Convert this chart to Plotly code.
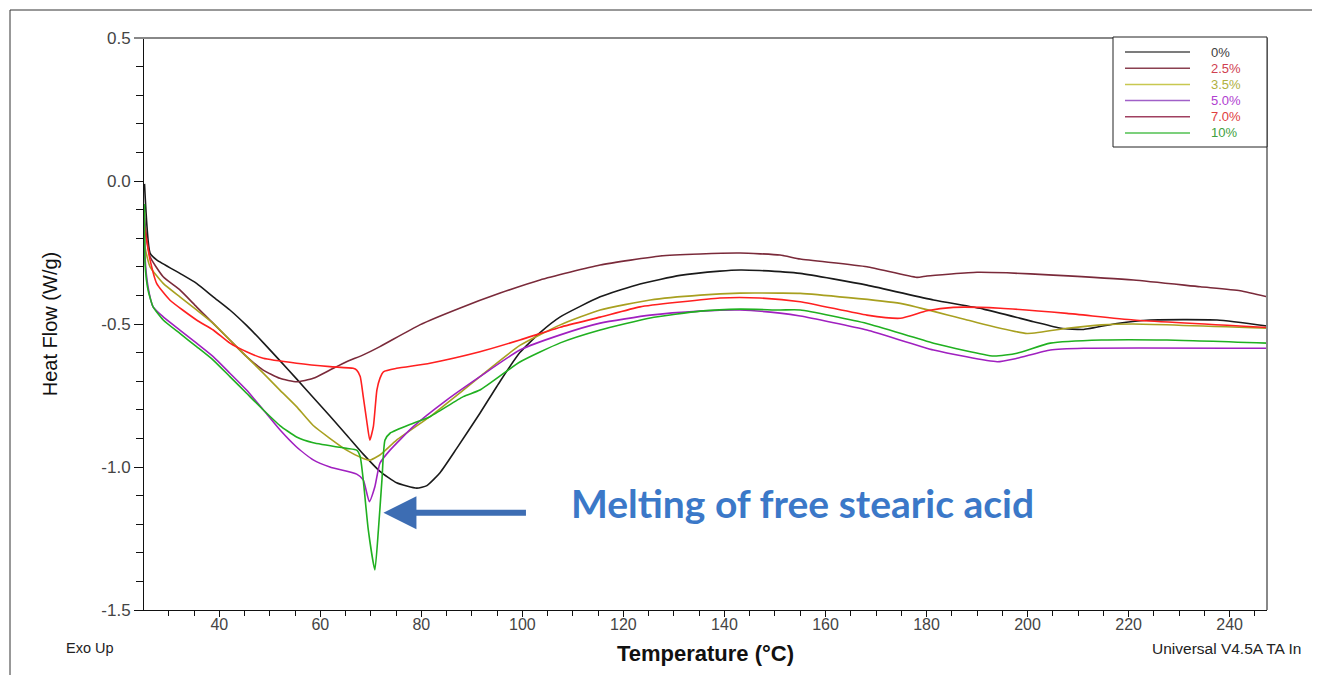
import plotly.graph_objects as go

# ---------------- data ----------------
series_names = ["0%", "2.5%", "3.5%", "5.0%", "7.0%", "10%"]
line_colors = ["#1a1a1a", "#7a2a3a", "#a8a020", "#a020c0", "#ff2020", "#20b020"]
key_colors = ["#505050", "#8a4050", "#c8c850", "#a060c8", "#a04060", "#50c050"]
label_colors = ["#404040", "#d04050", "#b0b040", "#b040d0", "#e04040", "#40a040"]

t_0 = [25.2, 26.3, 27.6, 32.2, 35.5, 38.8, 42.1, 45.4, 48.7, 52.0, 55.3, 58.6, 61.9, 65.2, 68.5,
       71.8, 75.1, 79.1, 81.1, 83.7, 87.0, 91.6, 95.6, 99.5, 103.5, 107.5, 115.4, 123.3, 131.2,
       139.1, 143.1, 147.0, 155.0, 168.2, 181.4, 191.3, 201.2, 206.6, 211.1, 217.7, 224.3, 237.5, 247.4]
hf_0 = [-0.01, -0.252, -0.276, -0.323, -0.358, -0.405, -0.451, -0.505, -0.565, -0.628, -0.692, -0.757,
        -0.822, -0.888, -0.955, -1.015, -1.055, -1.074, -1.065, -1.020, -0.935, -0.812, -0.700, -0.600,
        -0.530, -0.475, -0.405, -0.360, -0.330, -0.315, -0.311, -0.313, -0.323, -0.364, -0.416, -0.448,
        -0.492, -0.515, -0.519, -0.498, -0.486, -0.486, -0.507]

t_25 = [25.2, 25.6, 26.3, 28.9, 32.2, 35.5, 38.8, 42.1, 45.4, 48.7, 52.0, 55.3, 58.6, 61.9, 65.2,
        68.5, 71.8, 79.7, 87.7, 95.6, 103.5, 115.4, 127.3, 135.2, 143.1, 151.0, 155.0, 168.2, 178.1,
        180.1, 190.0, 195.9, 205.1, 221.0, 234.2, 242.1, 247.4]
hf_25 = [-0.13, -0.195, -0.265, -0.335, -0.381, -0.440, -0.498, -0.556, -0.614, -0.661, -0.690, -0.702,
         -0.690, -0.661, -0.632, -0.608, -0.579, -0.503, -0.444, -0.392, -0.346, -0.294, -0.262, -0.255,
         -0.252, -0.259, -0.273, -0.300, -0.337, -0.332, -0.319, -0.321, -0.329, -0.346, -0.370, -0.384,
         -0.405]

t_35 = [25.2, 25.3, 26.3, 28.9, 32.2, 35.5, 38.8, 42.1, 45.4, 48.7, 52.0, 55.3, 58.6, 65.2, 68.5,
        69.8, 71.8, 75.1, 81.7, 88.3, 91.6, 99.5, 107.5, 115.4, 125.3, 135.2, 143.1, 151.0, 155.0,
        174.8, 188.0, 199.9, 207.8, 214.6, 221.0, 247.4]
hf_35 = [-0.11, -0.230, -0.300, -0.358, -0.405, -0.451, -0.498, -0.556, -0.614, -0.672, -0.731, -0.789,
         -0.855, -0.941, -0.970, -0.976, -0.958, -0.906, -0.824, -0.731, -0.684, -0.575, -0.503, -0.451,
         -0.416, -0.399, -0.392, -0.392, -0.393, -0.428, -0.486, -0.533, -0.515, -0.503, -0.500, -0.515]

t_50 = [25.2, 25.3, 25.9, 26.9, 28.9, 32.2, 35.5, 38.8, 42.1, 45.4, 48.7, 52.0, 55.3, 58.6,
        61.9, 67.2, 68.5, 69.7, 70.8, 71.8, 73.8, 78.4, 85.0, 91.6, 99.5, 107.5, 115.4, 125.3, 135.2,
        143.1, 151.0, 155.0, 168.2, 181.4, 194.0, 197.9, 204.5, 211.1, 247.4]
hf_50 = [-0.12, -0.265, -0.370, -0.440, -0.475, -0.521, -0.567, -0.614, -0.672, -0.731, -0.800,
         -0.870, -0.930, -0.975, -1.000, -1.025, -1.045, -1.121, -1.069, -0.987, -0.941, -0.859, -0.766,
         -0.684, -0.591, -0.538, -0.497, -0.469, -0.455, -0.451, -0.462, -0.472, -0.521, -0.591, -0.632,
         -0.620, -0.591, -0.585, -0.585]

t_70 = [25.2, 25.6, 26.3, 27.6, 30.2, 35.5, 38.8, 42.1, 45.4, 48.7, 55.3, 61.9, 66.5, 67.2, 67.9,
        68.5, 69.2, 69.8, 70.5, 71.2, 71.8, 72.5, 75.1, 81.7, 91.6, 99.5, 107.5, 115.4, 123.3, 131.2,
        139.1, 147.0, 155.0, 168.2, 174.8, 180.1, 185.3, 194.6, 207.8, 221.0, 247.4]
hf_70 = [-0.16, -0.206, -0.276, -0.358, -0.416, -0.486, -0.521, -0.567, -0.597, -0.620, -0.637, -0.649,
         -0.655, -0.661, -0.684, -0.754, -0.840, -0.906, -0.859, -0.731, -0.690, -0.667, -0.655, -0.637,
         -0.597, -0.556, -0.511, -0.476, -0.440, -0.423, -0.409, -0.409, -0.422, -0.469, -0.480, -0.454,
         -0.442, -0.445, -0.463, -0.486, -0.512]

t_10 = [25.2, 25.3, 25.9, 26.9, 28.9, 32.2, 35.5, 38.8, 42.1, 45.4, 48.7, 52.0, 55.3, 58.6, 65.2,
        67.2, 67.9, 68.5, 69.5, 70.8, 71.5, 72.2, 72.8, 73.8, 78.4, 81.7, 88.3, 91.6, 99.5, 107.5,
        115.4, 125.3, 135.2, 143.1, 151.0, 155.0, 168.2, 181.4, 193.3, 197.9, 204.5, 214.6, 227.6, 247.4]
hf_10 = [-0.08, -0.288, -0.381, -0.440, -0.486, -0.533, -0.579, -0.626, -0.684, -0.742, -0.800, -0.855,
         -0.895, -0.915, -0.935, -0.941, -0.964, -1.045, -1.220, -1.360, -1.220, -1.045, -0.906, -0.882,
         -0.847, -0.824, -0.754, -0.731, -0.633, -0.566, -0.521, -0.479, -0.455, -0.448, -0.451, -0.451,
         -0.498, -0.567, -0.612, -0.602, -0.567, -0.556, -0.556, -0.567]

temps = [t_0, t_25, t_35, t_50, t_70, t_10]
flows = [hf_0, hf_25, hf_35, hf_50, hf_70, hf_10]

x_range = [25.1, 247.4]
y_range = [-1.5, 0.5]
y_ticks = [-1.5, -1.0, -0.5, 0.0, 0.5]
y_ticktext = ["-1.5", "-1.0", "-0.5", "0.0", "0.5"]
y_minor = [-1.4, -1.3, -1.2, -1.1, -0.9, -0.8, -0.7, -0.6, -0.4, -0.3, -0.2, -0.1, 0.1, 0.2, 0.3, 0.4]

annotation_text = "Melting of free stearic acid"
arrow_tip = (72.5, -1.16)

# ---------------- figure ----------------
fig = go.Figure()
for name, col, tx, hy in zip(series_names, line_colors, temps, flows):
    fig.add_trace(go.Scatter(
        x=tx, y=hy, mode="lines", name=name, showlegend=False,
        line=dict(color=col, width=1.6, shape="spline", smoothing=0.5),
    ))

# page body has an 8 px margin: the figure starts at page (8, 8)
OFF = 8
W, H = 1320 - OFF, 675 - OFF
# plot area in page pixels
PL, PR, PT, PB = 144, 1267, 38, 610
pw, ph = PR - PL, PB - PT


def px(xp):
    return (xp - PL) / pw


def py(yp):
    return (PB - yp) / ph


font_main = "Liberation Sans, Arial, sans-serif"

fig.update_layout(
    width=W, height=H,
    margin=dict(l=PL - OFF, r=W - (PR - OFF), t=PT - OFF, b=H - (PB - OFF), pad=0),
    paper_bgcolor="white", plot_bgcolor="white",
    font=dict(family=font_main, size=14, color="#333333"),
    showlegend=False,
    xaxis=dict(
        range=x_range, showgrid=False, zeroline=False,
        showline=True, linecolor="#111111", linewidth=1,
        ticks="outside", ticklen=6, tickcolor="#111111", tickwidth=1,
        tick0=0, dtick=20, ticklabelstandoff=-6,
        minor=dict(ticks="outside", ticklen=5, tickcolor="#111111", dtick=5, tick0=0, showgrid=False),
        tickfont=dict(size=16, color="#444444"),
        title=dict(text="<b>Temperature (°C)</b>", font=dict(size=22, color="#111111"), standoff=13),
    ),
    yaxis=dict(
        range=y_range, showgrid=False, zeroline=False,
        showline=True, linecolor="#111111", linewidth=1,
        ticks="outside", ticklen=9, tickcolor="#111111", tickwidth=1,
        tickmode="array", tickvals=y_ticks, ticktext=y_ticktext,
        minor=dict(ticks="outside", ticklen=7, tickcolor="#111111", tickmode="array",
                   tickvals=y_minor, showgrid=False),
        tickfont=dict(size=17, color="#444444"),
        title=dict(text="Heat Flow (W/g)", font=dict(size=20, color="#111111"), standoff=38),
    ),
)

# plot frame top/right (grey) and outer picture border
fig.add_shape(type="line", xref="paper", yref="paper", x0=px(134), x1=1, y0=1, y1=1,
              line=dict(color="#888888", width=2))
fig.add_shape(type="line", xref="paper", yref="paper", x0=1, x1=1, y0=0, y1=1,
              line=dict(color="#888888", width=2))
fig.add_shape(type="line", xref="paper", yref="paper", x0=px(10), x1=px(10), y0=py(10), y1=py(700),
              line=dict(color="#333333", width=1))
fig.add_shape(type="line", xref="paper", yref="paper", x0=px(10), x1=px(1330), y0=py(10), y1=py(10),
              line=dict(color="#333333", width=1))

# legend box (drawn as in the instrument software)
fig.add_shape(type="rect", xref="paper", yref="paper", x0=px(1113), x1=px(1267), y0=py(147), y1=py(37),
              line=dict(color="#222222", width=1), fillcolor="white")
for i, (name, kc, lc) in enumerate(zip(series_names, key_colors, label_colors)):
    yy = py(52 + i * 16.2)
    fig.add_shape(type="line", xref="paper", yref="paper", x0=px(1125), x1=px(1190), y0=yy, y1=yy,
                  line=dict(color=kc, width=1.5))
    fig.add_annotation(text=name, xref="paper", yref="paper", x=px(1209), y=yy,
                       xanchor="left", yanchor="middle", showarrow=False,
                       font=dict(size=13, color=lc))

# corner labels
fig.add_annotation(text="Exo Up", xref="paper", yref="paper", x=px(64), y=py(648),
                   xanchor="left", yanchor="middle", showarrow=False,
                   font=dict(size=14.5, color="#222222"))
fig.add_annotation(text="Universal V4.5A TA In", xref="paper", yref="paper", x=px(1150), y=py(648),
                   xanchor="left", yanchor="middle", showarrow=False,
                   font=dict(size=15.5, color="#222222"))

# callout
fig.add_annotation(text=annotation_text, xref="paper", yref="paper", x=px(569), y=py(503),
                   xanchor="left", yanchor="middle", showarrow=False,
                   font=dict(family="Lato, Open Sans, sans-serif", size=39, color="#3b78c8",
                             weight="bold"))
fig.add_annotation(text="", x=arrow_tip[0], y=arrow_tip[1], xref="x", yref="y",
                   ax=144, ay=0, showarrow=True, arrowhead=2, arrowsize=1.1, arrowwidth=6,
                   arrowcolor="#3d6db3", standoff=0)

fig.write_html("out.html")
